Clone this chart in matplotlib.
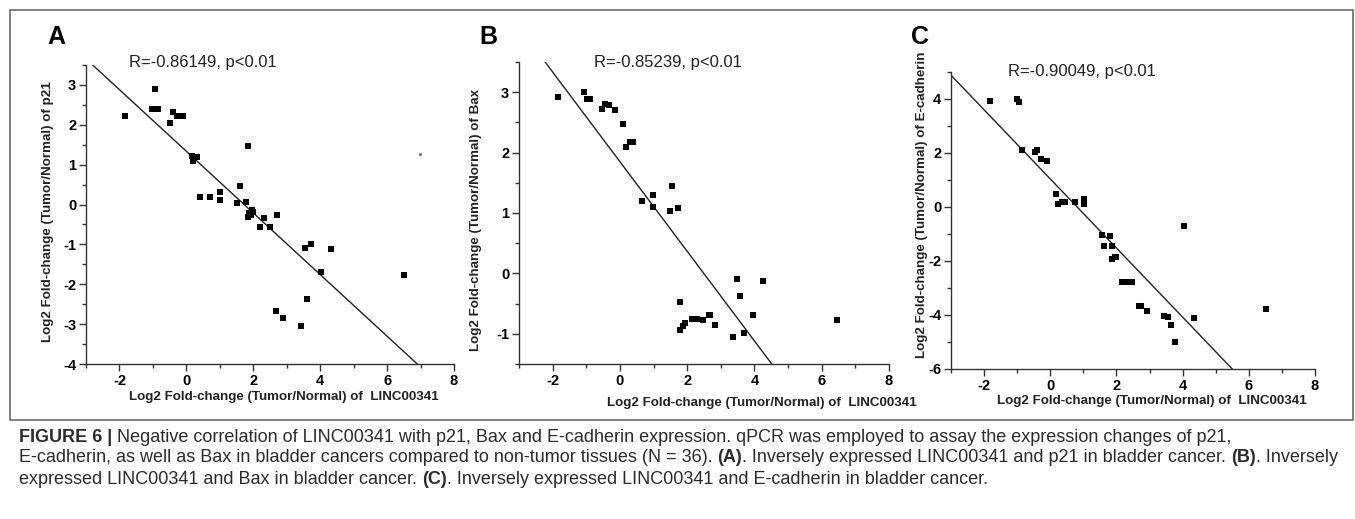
import matplotlib
matplotlib.use("Agg")
import matplotlib.pyplot as plt
import numpy as np
from matplotlib.patches import Rectangle
from matplotlib.ticker import MultipleLocator

plt.rcParams['font.family'] = ['Liberation Sans', 'DejaVu Sans']
plt.rcParams['axes.unicode_minus'] = False

W, H = 1355, 519

# ---- data ----
# panel A: LINC00341 vs p21
a_x = [-1.82, -0.95, -1.03, -0.86, -0.49, -0.41, -0.28, -0.11, 0.17, 0.32, 0.20,
       1.85, 1.60, 0.42, 0.72, 1.02, 1.02, 1.52, 1.77, 1.87, 1.97, 1.94, 1.84, 1.99,
       2.19, 2.32, 2.50, 2.72, 2.69, 2.90, 3.42, 3.54, 3.74, 3.62, 4.02, 4.32, 6.50]
a_y = [2.22, 2.89, 2.40, 2.40, 2.04, 2.31, 2.21, 2.21, 1.21, 1.19, 1.10,
       1.48, 0.46, 0.19, 0.19, 0.31, 0.11, 0.04, 0.07, -0.21, -0.14, -0.27, -0.31, -0.19,
       -0.56, -0.35, -0.56, -0.27, -2.68, -2.85, -3.04, -1.09, -0.99, -2.36, -1.69, -1.11, -1.76]
a_stray = (6.99, 1.28)

# panel B: LINC00341 vs Bax
b_x = [-1.85, -1.06, -0.99, -0.89, -0.53, -0.45, -0.32, -0.15, 0.10, 0.17, 0.30, 0.40,
       0.67, 0.97, 0.99, 1.48, 1.56, 1.72, 1.80, 1.80, 1.88, 1.93, 2.15, 2.28, 2.46,
       2.65, 2.69, 2.84, 3.36, 3.48, 3.56, 3.68, 3.96, 4.26, 6.44]
b_y = [2.92, 3.00, 2.89, 2.89, 2.73, 2.80, 2.78, 2.71, 2.48, 2.10, 2.18, 2.18,
       1.20, 1.30, 1.10, 1.04, 1.45, 1.08, -0.47, -0.93, -0.87, -0.82, -0.76, -0.76, -0.77,
       -0.69, -0.69, -0.86, -1.06, -0.09, -0.37, -0.99, -0.69, -0.12, -0.77]

# panel C: LINC00341 vs E-cadherin
c_x = [-1.83, -1.02, -0.93, -0.84, -0.47, -0.39, -0.27, -0.09,
       0.16, 0.23, 0.36, 0.45, 0.74, 1.02, 1.02, 1.55, 1.62, 1.79, 1.87, 1.87, 1.95, 2.00,
       2.18, 2.31, 2.48, 2.68, 2.74, 2.93, 3.43, 3.55, 3.65, 3.77, 4.05, 4.33, 6.52]
c_y = [3.91, 4.00, 3.89, 2.10, 2.02, 2.10, 1.79, 1.69,
       0.48, 0.11, 0.17, 0.17, 0.20, 0.30, 0.12, -1.03, -1.43, -1.06, -1.46, -1.93, -1.85, -1.85,
       -2.76, -2.76, -2.76, -3.68, -3.68, -3.87, -4.05, -4.07, -4.38, -4.99, -0.69, -4.11, -3.76]

# fitted lines (slope, intercept)
fits = [(-0.773, 1.335), (-0.742, 1.85), (-1.28, 1.04)]
r_texts = ["R=-0.86149, p<0.01", "R=-0.85239, p<0.01", "R=-0.90049, p<0.01"]
genes = ["p21", "Bax", "E-cadherin"]
letters = ["A", "B", "C"]
ylims = [(-4, 3.5), (-1.5, 3.5), (-6, 5)]
ymajor = [1, 1, 2]
yminor = [0.5, 0.5, 1]

caption_bold = "FIGURE 6 | "
line1 = [(caption_bold, True),
         ("Negative correlation of LINC00341 with p21, Bax and E-cadherin expression. "
          "qPCR was employed to assay the expression changes of p21,", False)]
line2 = [("E-cadherin, as well as Bax in bladder cancers compared to non-tumor tissues (N = 36). ", False),
         ("(A)", True), (". Inversely expressed LINC00341 and p21 in bladder cancer. ", False),
         ("(B)", True), (". Inversely", False)]
line3 = [("expressed LINC00341 and Bax in bladder cancer. ", False), ("(C)", True),
         (". Inversely expressed LINC00341 and E-cadherin in bladder cancer.", False)]

# ---- layout (pixel boxes: left, top, right, bottom) ----
axes_px = [(86, 65, 454, 364), (519, 62, 889, 364), (951, 72, 1315, 369)]
letter_px = [(56, 37), (488, 37), (920, 37)]
rtext_px = [(203, 63), (668, 63), (1082, 72)]
xlab_px = [(284, 397), (762, 403), (1152, 401)]
ylab_px = [(48, 212), (476, 220), (922, 205)]


def fx(px):
    return px / W


def fy(py):
    return 1 - py / H


fig = plt.figure(figsize=(W / 100, H / 100), dpi=100)

# border around the figure panels
fig.patches.append(Rectangle((fx(10), fy(420)), fx(1343), (420 - 10) / H,
                             transform=fig.transFigure, fill=False,
                             edgecolor="#6a6a6a", linewidth=1.2))

panels = [(a_x, a_y), (b_x, b_y), (c_x, c_y)]
for k, (xs, ys) in enumerate(panels):
    l, t, r, b = axes_px[k]
    ax = fig.add_axes([fx(l), fy(b), (r - l) / W, (b - t) / H])
    ax.scatter(xs, ys, marker="s", s=24, color="black", linewidths=0, zorder=3)
    slope, icpt = fits[k]
    xx = np.array([-3, 8])
    ax.plot(xx, slope * xx + icpt, color="#222222", linewidth=1.0)
    if k == 0:
        ax.plot([a_stray[0]], [a_stray[1]], marker="o", markersize=1.2, color="#777777")
    ax.set_xlim(-3, 8)
    ax.set_ylim(*ylims[k])
    ax.xaxis.set_major_locator(MultipleLocator(2))
    ax.xaxis.set_minor_locator(MultipleLocator(1))
    ax.yaxis.set_major_locator(MultipleLocator(ymajor[k]))
    ax.yaxis.set_minor_locator(MultipleLocator(yminor[k]))
    for s in ["top", "right"]:
        ax.spines[s].set_visible(False)
    for s in ["left", "bottom"]:
        ax.spines[s].set_color("#333333")
        ax.spines[s].set_linewidth(1.0)
    ax.tick_params(which="major", direction="out", length=5, width=1, color="#333333",
                   labelsize=10.5, pad=2)
    ax.tick_params(which="minor", direction="out", length=3, width=1, color="#333333")
    for lab in ax.get_xticklabels() + ax.get_yticklabels():
        lab.set_fontweight("bold")
    ax.set_facecolor("none")

    fig.text(fx(letter_px[k][0]), fy(letter_px[k][1]), letters[k], fontsize=18,
             fontweight="bold", ha="center", va="center")
    fig.text(fx(rtext_px[k][0]), fy(rtext_px[k][1]), r_texts[k], fontsize=12,
             ha="center", va="center", color="#222222")
    fig.text(fx(xlab_px[k][0]), fy(xlab_px[k][1]),
             "Log2 Fold-change (Tumor/Normal) of  LINC00341", fontsize=9.6,
             fontweight="bold", ha="center", va="center", color="#222222")
    fig.text(fx(ylab_px[k][0]), fy(ylab_px[k][1]),
             "Log2 Fold-change (Tumor/Normal) of " + genes[k], fontsize=9.6,
             fontweight="bold", ha="center", va="center", rotation=90, color="#222222")

# caption, with bold parts placed after measuring the text before them
fig.canvas.draw()
renderer = fig.canvas.get_renderer()
cap_color = "#2b2b2b"
cap_family = ['Liberation Sans Narrow', 'Liberation Sans']


def line_width(pieces, size):
    w = 0
    for txt, bold in pieces:
        t = fig.text(0, 0, txt, fontsize=size, family=cap_family,
                     fontweight="bold" if bold else "normal")
        w += t.get_window_extent(renderer).width
        t.remove()
    return w


# size so that line 1 ends near x=1287 and line 2 stays inside x=1343
cap_size = min(10 * 1268 / line_width(line1, 10), 10 * 1320 / line_width(line2, 10))


def run(x_px, y_px, pieces):
    x = x_px
    for txt, bold in pieces:
        t = fig.text(fx(x), fy(y_px), txt, fontsize=cap_size, ha="left", va="center",
                     color=cap_color, family=cap_family,
                     fontweight="bold" if bold else "normal")
        x += t.get_window_extent(renderer).width


run(19, 437, line1)
run(19, 458, line2)
run(19, 479, line3)

fig.savefig("out.png", dpi=100)
